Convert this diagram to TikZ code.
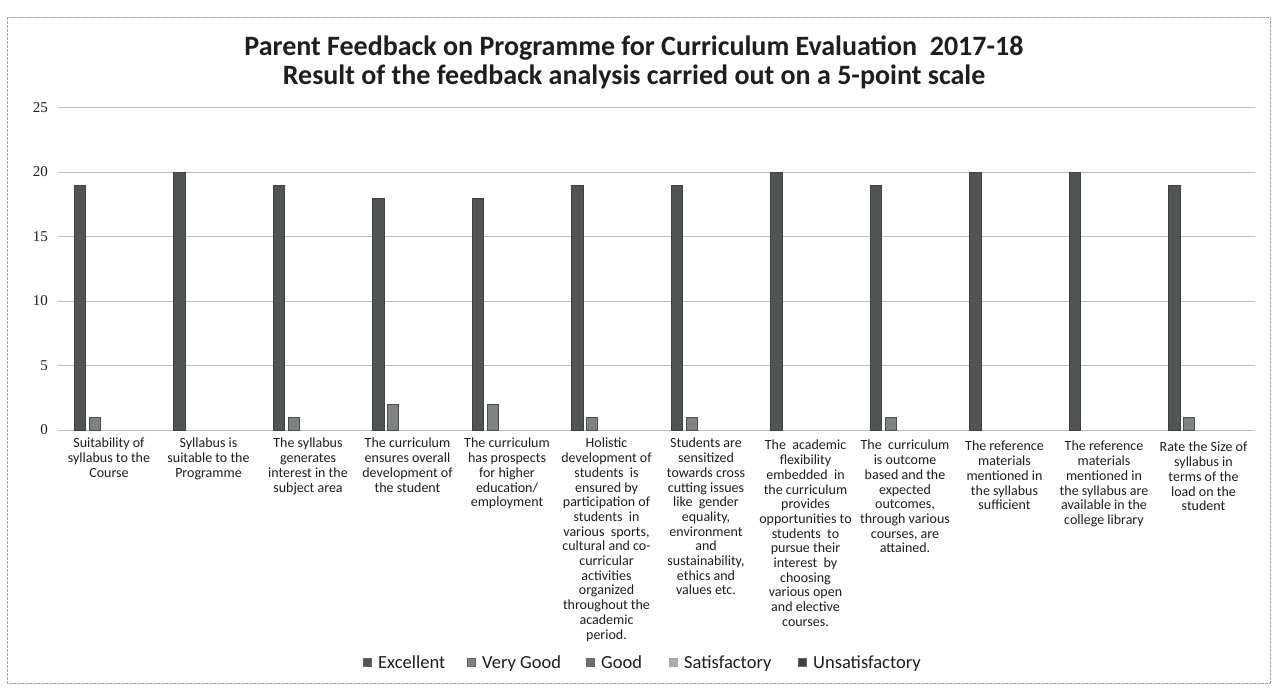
\documentclass[tikz,border=0pt]{standalone}
\usepackage{fontspec}
\setmainfont{Carlito}
\newfontfamily\axisfont{Liberation Serif}
\definecolor{excc}{HTML}{505553}
\definecolor{vgoodc}{HTML}{7E8382}
\definecolor{goodc}{HTML}{6A6E6D}
\definecolor{satisc}{HTML}{ABAEAD}
\definecolor{unsatc}{HTML}{3E4241}
\definecolor{gridc}{HTML}{BDBDBD}
\definecolor{framec}{HTML}{A0A0A0}
\definecolor{textc}{HTML}{1E1E1E}
\begin{document}
\begin{tikzpicture}[x=1pt,y=-1pt,
  gridline/.style={gridc,line width=0.7pt},
  ytick/.style={anchor=east,inner sep=0pt,font=\axisfont\fontsize{15}{15}\selectfont,text=textc},
  catlabel/.style={anchor=north,inner sep=0pt,align=center,font=\fontsize{14}{14.7}\selectfont,text=textc},
  exbar/.style={fill=excc,draw=black!75,line width=0.6pt},
  vgbar/.style={fill=vgoodc,draw=black!70,line width=0.6pt},
  legtext/.style={anchor=base west,inner sep=0pt,font=\fontsize{18.5}{18.5}\selectfont,text=textc},
  legmark/.style={draw=black!60,line width=0.5pt,minimum size=8pt,inner sep=0pt},
  titletext/.style={align=center,inner sep=0pt,font=\bfseries\fontsize{28}{29}\selectfont,text=textc}]
\useasboundingbox (0,0) rectangle (1276,690);
\fill[white] (0,0) rectangle (1276,690);
% outer frame
\draw[framec,line width=0.8pt,dash pattern=on 3pt off 1pt] (7,17) rectangle (1270,683);
% title
\node[titletext] (title) at (634,62) {Parent Feedback on Programme for Curriculum Evaluation\ \ 2017-18\\Result of the feedback analysis carried out on a 5-point scale};
% grid and y labels
\foreach \v in {0,5,...,25} {
  \pgfmathsetmacro\yy{430-12.9*\v}
  \draw[gridline] (58,\yy) -- (1255,\yy);
  \node[ytick] (y\v) at (48,\yy) {\v};
}
% bars
\foreach \i/\e/\g in {1/19/1,2/20/0,3/19/1,4/18/2,5/18/2,6/19/1,7/19/1,8/20/0,9/19/1,10/20/0,11/20/0,12/19/1} {
  \pgfmathsetmacro\c{109+99.5*(\i-1)}
  \pgfmathsetmacro\te{430-12.9*\e}
  \pgfmathsetmacro\tg{430-12.9*\g}
  \draw[exbar] ({\c-35},430) rectangle ({\c-23.5},\te);
  \ifnum\g>0
    \draw[vgbar] ({\c-20},430) rectangle ({\c-9},\tg);
  \fi
}
% category labels
\node[catlabel] (lab1) at (109,438) {Suitability of\\syllabus to the\\Course};
\node[catlabel] (lab2) at (208.5,438) {Syllabus is\\suitable to the\\Programme};
\node[catlabel] (lab3) at (308,438) {The syllabus\\generates\\interest in the\\subject area};
\node[catlabel] (lab4) at (407.5,438) {The curriculum\\ensures overall\\development of\\the student};
\node[catlabel] (lab5) at (507,438) {The curriculum\\has prospects\\for higher\\education/\\employment};
\node[catlabel] (lab6) at (606.5,438) {Holistic\\development of\\students\ \ is\\ensured by\\participation of\\students\ \ in\\various\ \ sports,\\cultural and co-\\curricular\\activities\\organized\\throughout the\\academic\\period.};
\node[catlabel] (lab7) at (706,438) {Students are\\sensitized\\towards cross\\cutting issues\\like\ \ gender\\equality,\\environment\\and\\sustainability,\\ethics and\\values etc.};
\node[catlabel] (lab8) at (805.5,440) {The\ \ academic\\flexibility\\embedded\ \ in\\the curriculum\\provides\\opportunities to\\students\ \ to\\pursue their\\interest\ \ by\\choosing\\various open\\and elective\\courses.};
\node[catlabel] (lab9) at (905,440) {The\ \ curriculum\\is outcome\\based and the\\expected\\outcomes,\\through various\\courses, are\\attained.};
\node[catlabel] (lab10) at (1004.5,441) {The reference\\materials\\mentioned in\\the syllabus\\sufficient};
\node[catlabel] (lab11) at (1104,441) {The reference\\materials\\mentioned in\\the syllabus are\\available in the\\college library};
\node[catlabel] (lab12) at (1203.5,442) {Rate the Size of\\syllabus in\\terms of the\\load on the\\student};
% legend
\node[legmark,fill=excc] (m1) at (367,662) {};
\node[legtext] (l1) at (378,668) {Excellent};
\node[legmark,fill=vgoodc] (m2) at (471,662) {};
\node[legtext] (l2) at (482,668) {Very Good};
\node[legmark,fill=goodc] (m3) at (590,662) {};
\node[legtext] (l3) at (601,668) {Good};
\node[legmark,fill=satisc,draw=black!35] (m4) at (673,662) {};
\node[legtext] (l4) at (684,668) {Satisfactory};
\node[legmark,fill=unsatc] (m5) at (802,662) {};
\node[legtext] (l5) at (813,668) {Unsatisfactory};
\end{tikzpicture}
\end{document}
